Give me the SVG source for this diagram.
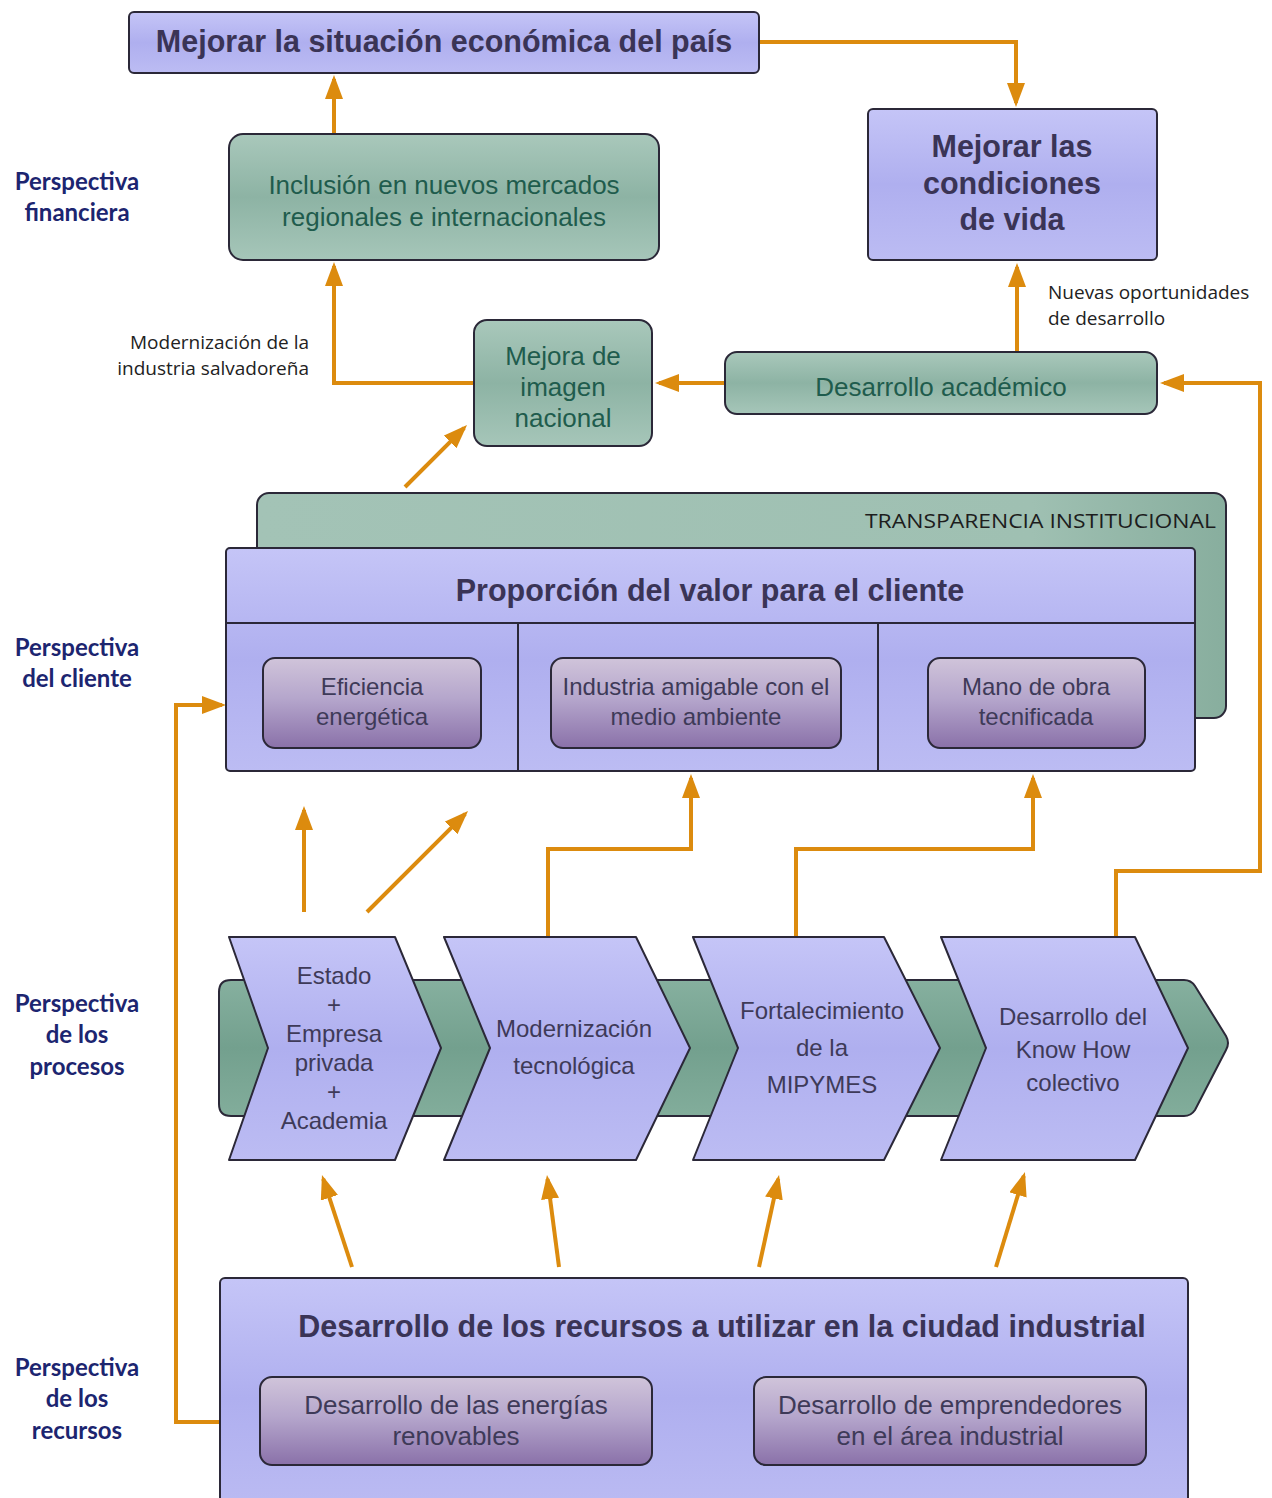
<svg xmlns="http://www.w3.org/2000/svg" width="1272" height="1498" viewBox="0 0 1272 1498">
<defs>
<linearGradient id="gP" x1="0" y1="0" x2="0" y2="1"><stop offset="0" stop-color="#c5c5f7"/><stop offset="0.5" stop-color="#afafef"/><stop offset="1" stop-color="#bcbcf3"/></linearGradient>
<linearGradient id="gG" x1="0" y1="0" x2="0" y2="1"><stop offset="0" stop-color="#a9c8bb"/><stop offset="0.5" stop-color="#8db3a4"/><stop offset="1" stop-color="#a6c6b9"/></linearGradient>
<linearGradient id="gT" x1="0" y1="0" x2="1" y2="0"><stop offset="0" stop-color="#a3c3b6"/><stop offset="0.8" stop-color="#9fc0b2"/><stop offset="1" stop-color="#88ae9e"/></linearGradient>
<linearGradient id="gB" x1="0" y1="0" x2="0" y2="1"><stop offset="0" stop-color="#86b09f"/><stop offset="0.5" stop-color="#73a08e"/><stop offset="1" stop-color="#82ad9b"/></linearGradient>
<linearGradient id="gI" x1="0" y1="0" x2="0" y2="1"><stop offset="0" stop-color="#d0c4da"/><stop offset="0.45" stop-color="#b5a6cc"/><stop offset="1" stop-color="#8a71a9"/></linearGradient>
<marker id="ah" viewBox="0 0 24 18" refX="20" refY="9" markerWidth="24" markerHeight="18" markerUnits="userSpaceOnUse" orient="auto"><path d="M0,0 L24,9 L0,18 Z" fill="#dc8b0e"/></marker>
</defs>
<style>
.box{stroke:#2b2838;stroke-width:2}
.arr{fill:none;stroke:#dc8b0e;stroke-width:4;marker-end:url(#ah)}
.tb{font-family:"Liberation Sans",Arial,sans-serif;font-weight:bold;fill:#3a3456;text-anchor:middle;font-size:30.5px}
.tg{font-family:"Liberation Sans",Arial,sans-serif;fill:#1f5c4d;text-anchor:middle;font-size:26px}
.tp{font-family:"Liberation Sans",Arial,sans-serif;fill:#3e3a58;text-anchor:middle;font-size:24px}
.ti{font-family:"Liberation Sans",Arial,sans-serif;fill:#3e3a58;text-anchor:middle}
.persp{font-family:Lato,"DejaVu Sans",sans-serif;font-weight:bold;fill:#1c2570;font-size:24px;text-anchor:middle}
.note{font-family:"Open Sans","DejaVu Sans",sans-serif;font-size:19px;fill:#222}
</style>
<rect width="1272" height="1498" fill="#ffffff"/>

<g id="labels">
<text class="persp" x="77" y="190">Perspectiva</text>
<text class="persp" x="77" y="221">financiera</text>
<text class="persp" x="77" y="656">Perspectiva</text>
<text class="persp" x="77" y="687">del cliente</text>
<text class="persp" x="77" y="1012">Perspectiva</text>
<text class="persp" x="77" y="1043">de los</text>
<text class="persp" x="77" y="1075">procesos</text>
<text class="persp" x="77" y="1376">Perspectiva</text>
<text class="persp" x="77" y="1407">de los</text>
<text class="persp" x="77" y="1439">recursos</text>
</g>

<g id="connectors">
<path class="arr" d="M759,42 H1016 V103"/>
<path class="arr" d="M334,134 V79"/>
<path class="arr" d="M474,383 H334 V266"/>
<path class="arr" d="M725,383 H659"/>
<path class="arr" d="M1017,352 V267"/>
<path class="arr" d="M1116,937 V871 H1260 V383 H1164"/>
<path class="arr" d="M405,487 L464.2,427.8"/>
<path class="arr" d="M220,1422 H176 V705 H222"/>
<path class="arr" d="M304,912 V810"/>
<path class="arr" d="M367,912 L465.2,813.8"/>
<path class="arr" d="M548,937 V849 H691 V778"/>
<path class="arr" d="M796,937 V849 H1033 V778"/>
<path class="arr" d="M352,1267 L323.2,1178.8"/>
<path class="arr" d="M559,1267 L547.5,1179"/>
<path class="arr" d="M759,1267 L778.2,1178.9"/>
<path class="arr" d="M996,1267 L1023.8,1175.8"/>
<text class="note" x="309" y="349" text-anchor="end">Modernización de la</text>
<text class="note" x="309" y="375" text-anchor="end">industria salvadoreña</text>
<text class="note" x="1048" y="299">Nuevas oportunidades</text>
<text class="note" x="1048" y="325">de desarrollo</text>
</g>

<g id="n-situacion">
<rect class="box" x="129" y="12" width="630" height="61" rx="5" fill="url(#gP)"/>
<text class="tb" x="444" y="52">Mejorar la situación económica del país</text>
</g>

<g id="n-condiciones">
<rect class="box" x="868" y="109" width="289" height="151" rx="5" fill="url(#gP)"/>
<text class="tb" x="1012" y="157">Mejorar las</text>
<text class="tb" x="1012" y="194">condiciones</text>
<text class="tb" x="1012" y="230">de vida</text>
</g>

<g id="n-inclusion">
<rect class="box" x="229" y="134" width="430" height="126" rx="14" fill="url(#gG)"/>
<text class="tg" x="444" y="194">Inclusión en nuevos mercados</text>
<text class="tg" x="444" y="226">regionales e internacionales</text>
</g>

<g id="n-imagen">
<rect class="box" x="474" y="320" width="178" height="126" rx="13" fill="url(#gG)"/>
<text class="tg" x="563" y="365">Mejora de</text>
<text class="tg" x="563" y="396">imagen</text>
<text class="tg" x="563" y="427">nacional</text>
</g>

<g id="n-academico">
<rect class="box" x="725" y="352" width="432" height="62" rx="12" fill="url(#gG)"/>
<text class="tg" x="941" y="396">Desarrollo académico</text>
</g>

<g id="n-transparencia">
<rect class="box" x="257" y="493" width="969" height="225" rx="12" fill="url(#gT)"/>
<text x="1216" y="528" text-anchor="end" font-family="'Open Sans','DejaVu Sans',sans-serif" font-size="20" fill="#1d1d1d" textLength="351" lengthAdjust="spacingAndGlyphs">TRANSPARENCIA INSTITUCIONAL</text>
</g>

<g id="n-proporcion">
<rect class="box" x="226" y="548" width="969" height="223" rx="4" fill="url(#gP)"/>
<line x1="226" y1="623" x2="1195" y2="623" stroke="#2b2838" stroke-width="2"/>
<line x1="518" y1="623" x2="518" y2="771" stroke="#2b2838" stroke-width="2"/>
<line x1="878" y1="623" x2="878" y2="771" stroke="#2b2838" stroke-width="2"/>
<text class="tb" x="710" y="601">Proporción del valor para el cliente</text>
</g>

<g id="n-eficiencia">
<rect class="box" x="263" y="658" width="218" height="90" rx="12" fill="url(#gI)"/>
<text class="ti" x="372" y="695" font-size="24">Eficiencia</text>
<text class="ti" x="372" y="725" font-size="24">energética</text>
</g>
<g id="n-amigable">
<rect class="box" x="551" y="658" width="290" height="90" rx="12" fill="url(#gI)"/>
<text class="ti" x="696" y="695" font-size="24">Industria amigable con el</text>
<text class="ti" x="696" y="725" font-size="24">medio ambiente</text>
</g>
<g id="n-manoobra">
<rect class="box" x="928" y="658" width="217" height="90" rx="12" fill="url(#gI)"/>
<text class="ti" x="1036" y="695" font-size="24">Mano de obra</text>
<text class="ti" x="1036" y="725" font-size="24">tecnificada</text>
</g>

<g id="n-banda">
<path class="box" d="M231,980 H1184 Q1191,980 1195,986 L1226,1036 Q1230,1043 1226,1050 L1195,1110 Q1191,1116 1184,1116 H231 Q219,1116 219,1104 V992 Q219,980 231,980 Z" fill="url(#gB)" stroke-width="1.5"/>
</g>

<g id="n-estado">
<path class="box" d="M229,937 H395 L441,1048 L395,1160 H229 L268,1048 Z" fill="url(#gP)" stroke-linejoin="round"/>
<text class="tp" x="334" y="984">Estado</text>
<text class="tp" x="334" y="1013">+</text>
<text class="tp" x="334" y="1042">Empresa</text>
<text class="tp" x="334" y="1071">privada</text>
<text class="tp" x="334" y="1100">+</text>
<text class="tp" x="334" y="1129">Academia</text>
</g>
<g id="n-modernizacion">
<path class="box" d="M444,937 H636 L690,1048 L636,1160 H444 L490,1048 Z" fill="url(#gP)" stroke-linejoin="round"/>
<text class="tp" x="574" y="1037">Modernización</text>
<text class="tp" x="574" y="1074">tecnológica</text>
</g>
<g id="n-mipymes">
<path class="box" d="M693,937 H884 L940,1048 L884,1160 H693 L738,1048 Z" fill="url(#gP)" stroke-linejoin="round"/>
<text class="tp" x="822" y="1019">Fortalecimiento</text>
<text class="tp" x="822" y="1056">de la</text>
<text class="tp" x="822" y="1093">MIPYMES</text>
</g>
<g id="n-knowhow">
<path class="box" d="M941,937 H1135 L1188,1048 L1135,1160 H941 L986,1048 Z" fill="url(#gP)" stroke-linejoin="round"/>
<text class="tp" x="1073" y="1025">Desarrollo del</text>
<text class="tp" x="1073" y="1058">Know How</text>
<text class="tp" x="1073" y="1091">colectivo</text>
</g>

<g id="n-recursos">
<rect class="box" x="220" y="1278" width="968" height="240" rx="5" fill="url(#gP)"/>
<text class="tb" x="722" y="1337">Desarrollo de los recursos a utilizar en la ciudad industrial</text>
</g>
<g id="n-energias">
<rect class="box" x="260" y="1377" width="392" height="88" rx="12" fill="url(#gI)"/>
<text class="ti" x="456" y="1414" font-size="26">Desarrollo de las energías</text>
<text class="ti" x="456" y="1445" font-size="26">renovables</text>
</g>
<g id="n-emprendedores">
<rect class="box" x="754" y="1377" width="392" height="88" rx="12" fill="url(#gI)"/>
<text class="ti" x="950" y="1414" font-size="26">Desarrollo de emprendedores</text>
<text class="ti" x="950" y="1445" font-size="26">en el área industrial</text>
</g>
</svg>
